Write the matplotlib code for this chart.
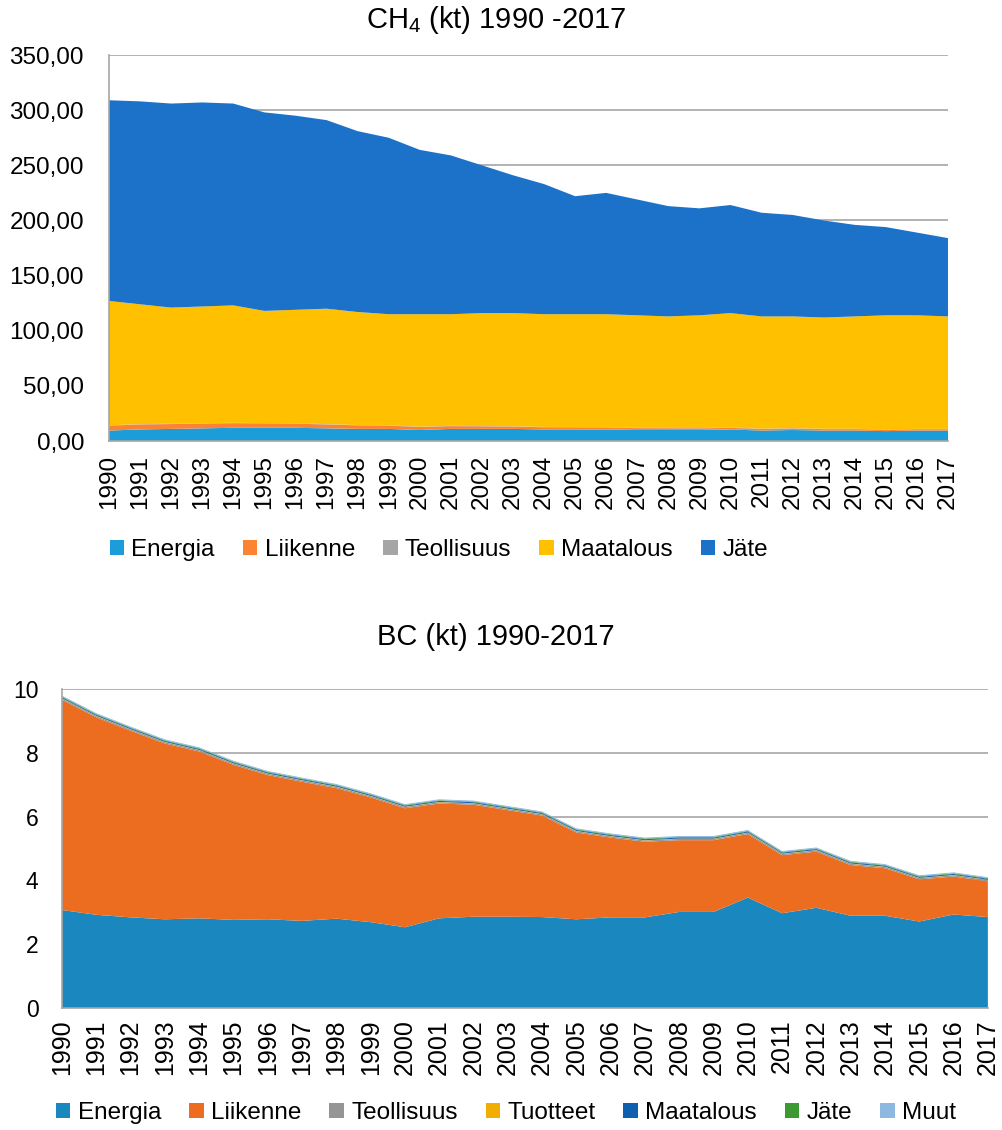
import matplotlib
matplotlib.use('Agg')
import matplotlib.pyplot as plt
from matplotlib.patches import Patch

years = list(range(1990, 2018))

# CH4 (kt)
ch4_energia = [9.5, 10.5, 11, 11.5, 12, 12, 12, 11.5, 11, 11, 10, 11, 11, 11,
               10.5, 10.5, 10.5, 10, 10, 10, 10.5, 9.5, 10, 9.5, 9.5, 9, 9.5, 9.5]
ch4_liikenne = [4.5, 4.5, 4.4, 4.3, 4.2, 4.0, 3.8, 3.5, 3.2, 3.0, 2.7, 2.5, 2.3, 2.1,
                2.0, 1.9, 1.8, 1.7, 1.6, 1.5, 1.5, 1.4, 1.4, 1.3, 1.3, 1.2, 1.2, 1.2]
ch4_teollisuus = [0.3, 0.3, 0.3, 0.3, 0.3, 0.3, 0.3, 0.3, 0.3, 0.3, 0.3, 0.3, 0.3, 0.3,
                  0.3, 0.3, 0.3, 0.3, 0.3, 0.3, 0.3, 0.3, 0.3, 0.3, 0.3, 0.3, 0.3, 0.3]
ch4_maatalous = [112.7, 108.7, 105.3, 105.9, 106.5, 101.7, 102.9, 104.7, 102.5, 100.7,
                 102.0, 101.2, 102.4, 102.6, 102.2, 102.3, 102.4, 102.0, 101.1, 102.2,
                 103.7, 101.8, 101.3, 100.9, 101.9, 103.5, 103.0, 102.0]
ch4_jate = [182, 184, 185, 185, 183, 180, 176, 171, 164, 160, 149, 144, 134, 125,
            118, 107, 110, 105, 100, 97, 98, 94, 92, 88, 83, 80, 75, 71]

# BC (kt)
bc_energia = [3.07, 2.92, 2.84, 2.78, 2.81, 2.76, 2.78, 2.73, 2.80, 2.69, 2.53, 2.81,
              2.86, 2.86, 2.85, 2.78, 2.84, 2.84, 3.01, 3.01, 3.46, 2.97, 3.14, 2.89,
              2.89, 2.71, 2.93, 2.85]
bc_liikenne = [6.59, 6.19, 5.85, 5.51, 5.23, 4.86, 4.52, 4.36, 4.09, 3.91, 3.73, 3.60,
               3.51, 3.34, 3.18, 2.72, 2.50, 2.37, 2.25, 2.25, 1.99, 1.82, 1.76, 1.59,
               1.49, 1.32, 1.19, 1.12]
bc_teollisuus = [0.04] * 28
bc_tuotteet = [0.01] * 28
bc_maatalous = [0.03] * 28
bc_jate = [0.02] * 28
bc_muut = [0.03] * 28

ch4_labels = ['Energia', 'Liikenne', 'Teollisuus', 'Maatalous', 'Jäte']
ch4_colors = ['#1C9CD8', '#FB8332', '#A5A5A5', '#FFC000', '#1B72C8']
bc_labels = ['Energia', 'Liikenne', 'Teollisuus', 'Tuotteet', 'Maatalous', 'Jäte', 'Muut']
bc_colors = ['#1A88BF', '#ED6D20', '#959595', '#F2AE00', '#0D5FAF', '#3C9A32', '#8DB9E1']

plt.rcParams['font.family'] = ['Liberation Sans', 'DejaVu Sans']
plt.rcParams['mathtext.fontset'] = 'custom'
plt.rcParams['mathtext.rm'] = 'Liberation Sans'

grey = '#A6A6A6'
x = list(range(len(years)))

fig = plt.figure(figsize=(10.02, 11.30), dpi=100)


def style_axes(ax, ymax, step, fmt, ysize, ypad, xsize, xpad):
    ax.set_xlim(0, len(years) - 1)
    ax.set_ylim(0, ymax)
    ticks = [i * step for i in range(int(ymax / step) + 1)]
    ax.set_yticks(ticks)
    ax.set_yticklabels([fmt(t) for t in ticks])
    ax.set_xticks(x)
    ax.set_xticklabels([str(y) for y in years], rotation=90)
    ax.tick_params(axis='both', length=0)
    ax.tick_params(axis='y', pad=ypad, labelsize=ysize)
    ax.tick_params(axis='x', pad=xpad, labelsize=xsize)
    ax.grid(axis='y', color=grey, linewidth=1.2)
    ax.set_axisbelow(True)
    for s in ['top', 'right']:
        ax.spines[s].set_visible(False)
    for s in ['left', 'bottom']:
        ax.spines[s].set_color(grey)
        ax.spines[s].set_linewidth(1.2)
        ax.spines[s].set_zorder(5)


# top chart: CH4
ax1 = fig.add_axes([0.1088, 0.6097, 0.8373, 0.3416])
ax1.stackplot(x, ch4_energia, ch4_liikenne, ch4_teollisuus, ch4_maatalous, ch4_jate,
              colors=ch4_colors, linewidth=0)
style_axes(ax1, 350, 50, lambda v: f'{v:.2f}'.replace('.', ','), 17.5, 18, 17.5, 10)
fig.text(0.495, 0.982, r'CH$_{\mathregular{4}}$ (kt) 1990 -2017', ha='center', va='center',
         fontsize=21)
h1 = [Patch(facecolor=c, edgecolor='none') for c in ch4_colors]
fig.legend(h1, ch4_labels, loc='center', bbox_to_anchor=(0.438, 0.513), ncol=5,
           frameon=False, fontsize=17.5, handlelength=0.6, handleheight=0.6,
           handletextpad=0.3, columnspacing=1.15)

# bottom chart: BC
ax2 = fig.add_axes([0.0619, 0.108, 0.924, 0.2823])
ax2.stackplot(x, bc_energia, bc_liikenne, bc_teollisuus, bc_tuotteet, bc_maatalous,
              bc_jate, bc_muut, colors=bc_colors, linewidth=0)
style_axes(ax2, 10, 2, lambda v: f'{v:.0f}', 16.5, 17, 18, 8)
fig.text(0.495, 0.436, 'BC (kt) 1990-2017', ha='center', va='center', fontsize=21)
h2 = [Patch(facecolor=c, edgecolor='none') for c in bc_colors]
fig.legend(h2, bc_labels, loc='center', bbox_to_anchor=(0.505, 0.015), ncol=7,
           frameon=False, fontsize=17.5, handlelength=0.6, handleheight=0.6,
           handletextpad=0.3, columnspacing=1.15)

plt.savefig('out.png', dpi=100, facecolor='white')
plt.close()
